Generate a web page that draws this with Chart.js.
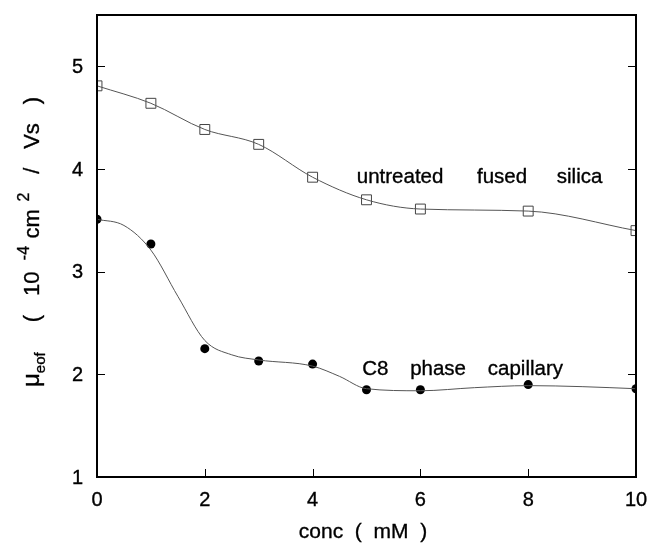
<!DOCTYPE html>
<html><head><meta charset="utf-8">
<script src="https://cdn.jsdelivr.net/npm/chart.js@4/dist/chart.umd.min.js"></script>
<style>html,body{margin:0;padding:0;background:#fff}#wrap{width:651px;height:544px;position:relative}</style>
</head><body><div id="wrap"><canvas id="c"></canvas></div>
<script>
// ---- data ----
const concentrations = [0, 1, 2, 3, 4, 5, 6, 8, 10];
const untreatedSilica = [4.81, 4.64, 4.385, 4.24, 3.92, 3.70, 3.61, 3.59, 3.40];
const c8Phase = [3.51, 3.27, 2.25, 2.13, 2.10, 1.85, 1.85, 1.90, 1.86];
// smooth fitted curve of the C8 data
const c8FitX = [0, 0.5, 1, 1.5, 2, 2.5, 3, 4, 4.5, 5, 6, 7, 8, 9, 10];
const c8FitY = [3.51, 3.45, 3.21, 2.76, 2.33, 2.19, 2.14, 2.08, 1.98, 1.86, 1.84, 1.87, 1.89, 1.88, 1.86];
const xTicks = [0, 2, 4, 6, 8, 10];
const yTicks = [1, 2, 3, 4, 5];
const upperLabelWords = ['untreated', 'fused', 'silica'];
const upperLabelX = [4.82, 7.05, 8.53];
const upperLabelY = 3.86;
const lowerLabelWords = ['C8', 'phase', 'capillary'];
const lowerLabelX = [4.92, 5.81, 7.25];
const lowerLabelY = 1.99;
const xTitle = 'conc  (  mM  )';

const FONT = '"Liberation Sans", Arial, Helvetica, sans-serif';
const LINE = '#555';

function txt(ctx, s, x, y) {
  ctx.fillText(s, x, y);
  ctx.strokeText(s, x, y);
}

const frame = {
  id: 'frame',
  afterDraw(chart) {
    const {ctx, chartArea: a, scales} = chart;
    const xs = scales.x, ys = scales.y;
    ctx.save();
    ctx.strokeStyle = '#000';
    ctx.lineWidth = 1;
    // inward tick marks
    ctx.beginPath();
    yTicks.forEach(v => {
      const p = Math.round(ys.getPixelForValue(v)) + 0.5;
      ctx.moveTo(a.left, p); ctx.lineTo(a.left + 8, p);
      ctx.moveTo(a.right, p); ctx.lineTo(a.right - 8, p);
    });
    xTicks.forEach(v => {
      const p = Math.round(xs.getPixelForValue(v)) + 0.5;
      ctx.moveTo(p, a.bottom); ctx.lineTo(p, a.bottom - 8);
    });
    ctx.stroke();
    // box
    ctx.lineWidth = 2;
    ctx.strokeRect(a.left, a.top, a.right - a.left, a.bottom - a.top);

    ctx.fillStyle = '#000';
    ctx.strokeStyle = '#000';
    ctx.lineWidth = 0.35;

    // tick labels
    ctx.font = '20px ' + FONT;
    ctx.textAlign = 'right';
    ctx.textBaseline = 'middle';
    yTicks.forEach(v => txt(ctx, String(v), a.left - 14, ys.getPixelForValue(v) + 1));
    ctx.textAlign = 'center';
    ctx.textBaseline = 'top';
    xTicks.forEach(v => txt(ctx, String(v), xs.getPixelForValue(v), a.bottom + 13));

    // annotations
    ctx.font = '20.5px ' + FONT;
    ctx.textBaseline = 'alphabetic';
    ctx.textAlign = 'left';
    upperLabelWords.forEach((w, i) => txt(ctx, w, xs.getPixelForValue(upperLabelX[i]), ys.getPixelForValue(upperLabelY)));
    lowerLabelWords.forEach((w, i) => txt(ctx, w, xs.getPixelForValue(lowerLabelX[i]), ys.getPixelForValue(lowerLabelY)));

    // x title
    ctx.font = '21px ' + FONT;
    ctx.textAlign = 'center';
    txt(ctx, xTitle, 363, 538);

    // y title with sub/superscripts; gaps stretched to the reference length
    const segs = [
      {t: 'μ', s: 24, dy: 0, g: 0},
      {t: 'eof', s: 15, dy: 6, g: 0},
      {t: '(', s: 22, dy: 0, g: 1.6},
      {t: '10', s: 22, dy: 0, g: 1},
      {t: '-4', s: 16, dy: -10, g: 0.6},
      {t: 'cm', s: 22, dy: 0, g: 0.4},
      {t: '2', s: 16, dy: -10, g: 0.4},
      {t: '/', s: 22, dy: 0, g: 1},
      {t: 'Vs', s: 22, dy: 0, g: 1},
      {t: ')', s: 22, dy: 0, g: 1}
    ];
    const targetLen = 290;
    let sumW = 0, sumG = 0;
    segs.forEach(g => { ctx.font = g.s + 'px ' + FONT; g.w = ctx.measureText(g.t).width; sumW += g.w; sumG += g.g; });
    const unit = Math.max(0, (targetLen - sumW) / sumG);
    ctx.translate(39, 242);
    ctx.rotate(-Math.PI / 2);
    ctx.textAlign = 'left';
    let x = -targetLen / 2;
    segs.forEach(g => { x += g.g * unit; ctx.font = g.s + 'px ' + FONT; txt(ctx, g.t, x, g.dy); x += g.w; });
    ctx.restore();
  }
};

new Chart(document.getElementById('c'), {
  type: 'line',
  data: {
    datasets: [
      {
        label: 'untreated fused silica (curve)',
        data: concentrations.map((c, i) => ({x: c, y: untreatedSilica[i]})),
        borderColor: LINE, borderWidth: 1, pointRadius: 0,
        cubicInterpolationMode: 'monotone', fill: false
      },
      {
        label: 'untreated fused silica',
        data: concentrations.map((c, i) => ({x: c, y: untreatedSilica[i]})),
        showLine: false, pointStyle: 'rect', pointRadius: 7,
        pointBackgroundColor: 'rgba(255,255,255,0)', pointBorderColor: '#444', pointBorderWidth: 1
      },
      {
        label: 'C8 phase capillary (curve)',
        data: c8FitX.map((c, i) => ({x: c, y: c8FitY[i]})),
        borderColor: LINE, borderWidth: 1, pointRadius: 0,
        cubicInterpolationMode: 'monotone', fill: false
      },
      {
        label: 'C8 phase capillary',
        data: concentrations.map((c, i) => ({x: c, y: c8Phase[i]})),
        showLine: false, pointStyle: 'circle', pointRadius: 4.5,
        pointBackgroundColor: '#000', pointBorderColor: '#000', pointBorderWidth: 0
      }
    ]
  },
  options: {
    responsive: true, maintainAspectRatio: false, animation: false,
    layout: {padding: {left: 0, top: 15, right: 15, bottom: 0}},
    plugins: {legend: {display: false}, tooltip: {enabled: false}},
    scales: {
      x: {
        type: 'linear', min: 0, max: 10,
        afterBuildTicks: s => { s.ticks = xTicks.map(v => ({value: v})); },
        afterFit: s => { s.height = 67; },
        grid: {display: false, drawTicks: false}, border: {display: false},
        ticks: {display: false}
      },
      y: {
        type: 'linear', min: 1, max: 5.5,
        afterBuildTicks: s => { s.ticks = yTicks.map(v => ({value: v})); },
        afterFit: s => { s.width = 97; },
        grid: {display: false, drawTicks: false}, border: {display: false},
        ticks: {display: false}
      }
    }
  },
  plugins: [frame]
});
</script>
</body></html>
